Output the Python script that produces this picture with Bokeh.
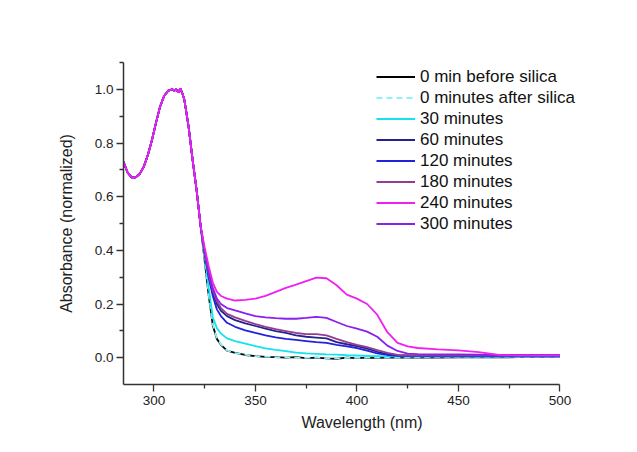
from bokeh.plotting import figure
from bokeh.models import Range1d, FixedTicker, PrintfTickFormatter, Legend, LegendItem
from bokeh.embed import file_html
from bokeh.resources import INLINE

# ---- data ----
wl_peak = [285, 287, 289, 291, 293, 295, 297, 299, 301, 303, 305, 307, 309, 310,
           311, 312, 313, 314, 315, 317, 319, 321, 323]
abs_peak = [0.73, 0.69, 0.672, 0.672, 0.685, 0.712, 0.755, 0.81, 0.875, 0.935, 0.975,
            0.995, 1.0, 0.995, 1.0, 0.988, 1.003, 0.985, 0.96, 0.865, 0.74, 0.625, 0.49]

wl_tail = [325, 327, 329, 331, 333, 336, 340, 345, 350, 355, 360, 365, 370, 375, 380,
           385, 390, 395, 400, 405, 410, 415, 420, 425, 430, 440, 450, 460, 470, 480,
           490, 500]

before_silica = [0.36, 0.23, 0.12, 0.07, 0.048, 0.026, 0.018, 0.01, 0.006, 0.003, 0.002,
                 0.0, 0.002, -0.002, 0.0, -0.003, -0.004, 0.0, -0.002, 0.0, -0.001, 0.0,
                 0.001, 0.0, 0.001, 0.0, 0.001, 0.002, 0.001, 0.002, 0.002, 0.003]
after_silica = [0.365, 0.235, 0.125, 0.072, 0.05, 0.027, 0.017, 0.011, 0.005, 0.004, 0.001,
                0.001, 0.0, -0.001, 0.001, -0.002, -0.003, -0.001, -0.001, 0.0, 0.0, 0.001,
                0.0, 0.001, 0.001, 0.001, 0.002, 0.001, 0.002, 0.002, 0.003, 0.003]
min30 = [0.38, 0.26, 0.15, 0.11, 0.09, 0.072, 0.062, 0.052, 0.043, 0.035, 0.029, 0.024,
         0.019, 0.016, 0.014, 0.012, 0.011, 0.009, 0.008, 0.007, 0.006, 0.005, 0.005,
         0.004, 0.004, 0.004, 0.003, 0.003, 0.003, 0.003, 0.003, 0.003]
min60 = [0.39, 0.30, 0.24, 0.20, 0.175, 0.155, 0.14, 0.128, 0.118, 0.108, 0.099, 0.092,
         0.083, 0.078, 0.075, 0.072, 0.058, 0.05, 0.043, 0.034, 0.022, 0.013, 0.009,
         0.008, 0.007, 0.007, 0.007, 0.007, 0.007, 0.007, 0.007, 0.007]
min120 = [0.39, 0.30, 0.23, 0.18, 0.155, 0.13, 0.115, 0.102, 0.092, 0.083, 0.076, 0.07,
          0.066, 0.062, 0.058, 0.055, 0.048, 0.042, 0.036, 0.026, 0.016, 0.01, 0.007,
          0.006, 0.006, 0.005, 0.005, 0.005, 0.005, 0.005, 0.005, 0.005]
min180 = [0.39, 0.31, 0.25, 0.21, 0.185, 0.163, 0.15, 0.137, 0.125, 0.115, 0.106, 0.099,
          0.092, 0.088, 0.088, 0.083, 0.07, 0.058, 0.048, 0.039, 0.028, 0.018, 0.01,
          0.008, 0.008, 0.008, 0.008, 0.008, 0.008, 0.008, 0.008, 0.008]
min240 = [0.41, 0.34, 0.28, 0.245, 0.23, 0.22, 0.213, 0.215, 0.22, 0.23, 0.245, 0.26,
          0.272, 0.285, 0.298, 0.296, 0.27, 0.235, 0.22, 0.2, 0.16, 0.095, 0.055, 0.042,
          0.036, 0.031, 0.027, 0.021, 0.01, 0.008, 0.008, 0.008]
min300 = [0.40, 0.32, 0.26, 0.22, 0.2, 0.185, 0.176, 0.165, 0.155, 0.15, 0.147, 0.145,
          0.145, 0.148, 0.152, 0.148, 0.133, 0.118, 0.108, 0.097, 0.078, 0.045, 0.025,
          0.015, 0.013, 0.012, 0.012, 0.011, 0.01, 0.01, 0.01, 0.01]

labels = ["0 min before silica", "0 minutes after silica", "30 minutes", "60 minutes",
          "120 minutes", "180 minutes", "240 minutes", "300 minutes"]
series = [before_silica, after_silica, min30, min60, min120, min180, min240, min300]
colors = ["#000000", "#8ef0f8", "#14e2ee", "#23238c", "#2222dc", "#943c94", "#f020f0",
          "#8a20ee"]
dashes = ["solid", "6 4", "solid", "solid", "solid", "solid", "solid", "solid"]

x_ticks = [300, 350, 400, 450, 500]
x_minor = [325, 375, 425, 475]
y_ticks = [0.0, 0.2, 0.4, 0.6, 0.8, 1.0]
y_minor = [0.1, 0.3, 0.5, 0.7, 0.9, 1.1]

FONT = "Liberation Sans"

# frame extends past 500 nm (axis line bounded at 500) so the legend text fits
p = figure(width=629, height=444, output_backend="svg", toolbar_location=None,
           x_range=Range1d(285, 520), y_range=Range1d(-0.1, 1.1),
           min_border_left=123, min_border_right=29, min_border_top=62,
           min_border_bottom=60)
p.outline_line_color = None
p.xgrid.visible = False
p.ygrid.visible = False
p.background_fill_color = "white"
p.border_fill_color = "white"

draw_order = [0, 1, 2, 3, 4, 5, 7, 6]
renderers = {}
wl = wl_peak + wl_tail
for i in draw_order:
    r = p.line(wl, abs_peak + series[i], line_color=colors[i], line_width=1.8,
               line_dash=dashes[i])
    renderers[i] = r

items = [LegendItem(label=labels[i], renderers=[renderers[i]]) for i in range(len(labels))]
legend = Legend(items=items, location=(253, 150))
legend.border_line_color = None
legend.background_fill_alpha = 0
legend.padding = 0
legend.margin = 0
legend.spacing = 0
legend.glyph_width = 39
legend.glyph_height = 21
legend.label_height = 21
legend.label_standoff = 5
legend.label_text_font = FONT
legend.label_text_font_size = "17px"
legend.label_text_color = "#111111"
p.add_layout(legend, "center")

for ax in (p.xaxis[0], p.yaxis[0]):
    ax.axis_line_color = "#333333"
    ax.axis_line_width = 1.5
    ax.major_tick_line_color = "#333333"
    ax.minor_tick_line_color = "#333333"
    ax.major_tick_line_width = 1.3
    ax.minor_tick_line_width = 1.3
    ax.major_tick_in = 0
    ax.major_tick_out = 7
    ax.minor_tick_in = 0
    ax.minor_tick_out = 4
    ax.major_label_text_font = FONT
    ax.major_label_text_font_size = "13.5px"
    ax.major_label_text_color = "#222222"
    ax.axis_label_text_font = FONT
    ax.axis_label_text_font_size = "16px"
    ax.axis_label_text_font_style = "normal"
    ax.axis_label_text_color = "#222222"

p.xaxis.bounds = (285, 500)
p.xaxis.ticker = FixedTicker(ticks=x_ticks, minor_ticks=x_minor)
p.yaxis.ticker = FixedTicker(ticks=y_ticks, minor_ticks=y_minor)
p.yaxis.formatter = PrintfTickFormatter(format="%.1f")
p.xaxis.axis_label = "Wavelength (nm)"
p.yaxis.axis_label = "Absorbance (normalized)"
p.xaxis.major_label_standoff = 4
p.yaxis.major_label_standoff = 3
p.xaxis.axis_label_standoff = 6
p.yaxis.axis_label_standoff = 17

open("out.html", "w").write(file_html(p, INLINE))
